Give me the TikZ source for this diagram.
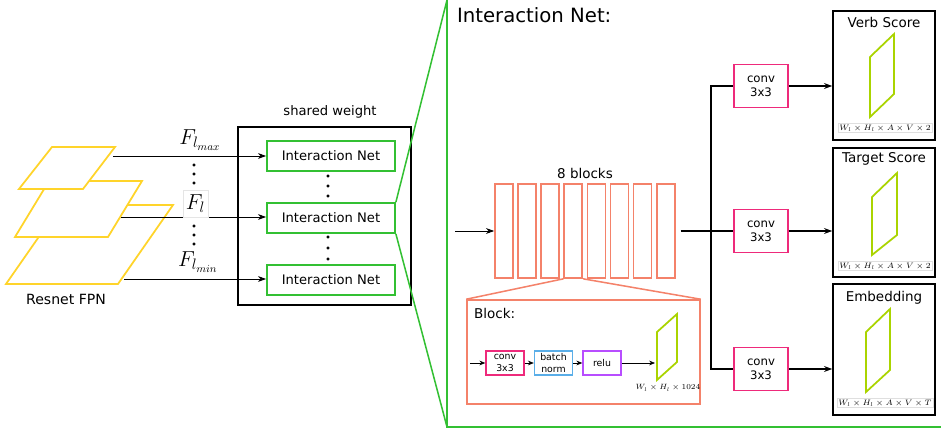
\documentclass[tikz,border=0pt]{standalone}
\usepackage{fix-cm}
\usepackage[no-math]{fontspec}
\setmainfont{DejaVu Sans}
\usetikzlibrary{arrows.meta}
\definecolor{fpnyellow}{HTML}{FFD42A}
\definecolor{netgreen}{HTML}{33C033}
\definecolor{blockorange}{HTML}{F4826A}
\definecolor{convpink}{HTML}{EE2A7B}
\definecolor{outgreen}{HTML}{AAD400}
\definecolor{bnblue}{HTML}{5AAEE8}
\definecolor{relupurple}{HTML}{B84DFF}
\begin{document}
\begin{tikzpicture}[x=0.03cm,y=-0.03cm,
    >={Stealth[length=7pt,width=5pt]},
    lbl/.style={font=\fontsize{11.2}{13}\selectfont},
    fpn/.style={draw=fpnyellow,fill=white,line width=1.5pt},
    inet/.style={draw=netgreen,line width=1.5pt,minimum width=3.84cm,minimum height=0.9cm,inner sep=0pt,font=\fontsize{11.2}{13}\selectfont},
    blk/.style={draw=blockorange,line width=1.4pt,minimum width=0.54cm,minimum height=2.82cm,inner sep=0pt},
    conv/.style={draw=convpink,line width=1.5pt,minimum width=1.62cm,minimum height=1.29cm,inner sep=0pt,align=center,font=\fontsize{10}{12}\selectfont},
    score/.style={draw,line width=1.3pt,minimum width=3.06cm,minimum height=3.87cm,inner sep=0pt},
    small/.style={line width=1.2pt,minimum width=1.14cm,minimum height=0.72cm,inner sep=0pt,align=center,font=\fontsize{8}{9.5}\selectfont},
    dim/.style={draw=gray!25,line width=0.3pt,inner sep=1pt,font=\fontsize{6.7}{8}\selectfont},
    flbl/.style={font=\fontsize{18.5}{20}\selectfont},
    para/.style={draw=outgreen,line width=1.5pt}]
\useasboundingbox (0,0) rectangle (941,431);

% resnet fpn
\filldraw[fpn] (61,205) -- (173,205) -- (118,284) -- (6,284) -- cycle;
\filldraw[fpn] (49,181) -- (142,181) -- (108,237) -- (15,237) -- cycle;
\filldraw[fpn] (52,147) -- (115,147) -- (83,189) -- (19,189) -- cycle;
\node[font=\fontsize{12}{14}\selectfont] (fpnlabel) at (66,299) {Resnet FPN};
\coordinate (fmax) at (113,156);
\coordinate (fl) at (121,217);
\coordinate (fmin) at (124,279);

% shared weight
\node[draw,line width=1.2pt,minimum width=5.19cm,minimum height=5.34cm] (shared) at (324.5,216) {};
\node[lbl] (sharedlabel) at (330,112) {shared weight};
\node[inet] (inmax) at (331,156) {Interaction Net};
\node[inet] (inl) at (331,218) {Interaction Net};
\node[inet] (inmin) at (331,280) {Interaction Net};
\draw[->,line width=0.8pt] (fmax) -- (fmax -| inmax.west);
\draw[->,line width=0.8pt] (fl) -- (fl -| inl.west);
\draw[->,line width=0.8pt] (fmin) -- (fmin -| inmin.west);
\node[flbl] (lmax) at (200,140) {$F_{l_{max}}$};
\node[flbl,draw=gray!20,line width=0.3pt,inner sep=0pt,minimum width=0.75cm,minimum height=0.8cm,fill=white] (ll) at (195.5,203.5) {$F_l$};
\node[flbl] (lmin) at (198,262) {$F_{l_{min}}$};
\foreach \y in {165,174,183,226,235,244}
  \filldraw (194,\y) circle (1.1pt);
\foreach \y in {176,186,196,237,248,259}
  \filldraw (328,\y) circle (1.1pt);

% interaction net
\draw[netgreen,line width=1.3pt] (inl.north east) -- (447,0);
\draw[netgreen,line width=1.3pt] (inl.south east) -- (447,427);
\draw[netgreen,line width=1.5pt] (447,-5) -- (447,427) -- (945,427);
\node[anchor=west,font=\fontsize{16.8}{19}\selectfont] (title) at (453,15) {Interaction Net:};

\foreach \i in {0,...,7}
  \node[blk] (b\i) at (504+23.1*\i,231) {};
\node[font=\fontsize{11.5}{13}\selectfont] (nblocks) at (585,173) {8 blocks};
\coordinate (netin) at (455,231);
\draw[->,line width=0.8pt] (netin) -- (b0.west);

\node[conv] (c1) at (761,86) {conv\\3x3};
\node[conv] (c2) at (761,231) {conv\\3x3};
\node[conv] (c3) at (761,369) {conv\\3x3};
\draw[line width=1.2pt] (b7.east) ++(5,0) -- (c2.west);
\draw[line width=1.2pt] (c1.west) -- ++(-22,0) |- (c3.west);

\node[score] (verb) at (884,75.5) {};
\node[score] (target) at (884,212.5) {};
\node[score,minimum height=3.93cm] (embed) at (884,349.5) {};
\draw[->,line width=1.2pt] (c1.east) -- (c1 -| verb.west);
\draw[->,line width=1.2pt] (c2.east) -- (c2 -| target.west);
\draw[->,line width=1.2pt] (c3.east) -- (c3 -| embed.west);
\node[font=\fontsize{11.5}{13}\selectfont] at (884,22) {Verb Score};
\node[font=\fontsize{11.5}{13}\selectfont] at (884,159) {Target Score};
\node[font=\fontsize{11.5}{13}\selectfont] at (884,298) {Embedding};
\draw[para] (870,57) -- (894,34) -- (894,94) -- (870,117) -- cycle;
\draw[para] (872,197) -- (897,173) -- (897,235) -- (872,255) -- cycle;
\draw[para] (866,332) -- (890,309) -- (890,370) -- (866,392) -- cycle;
\node[dim] (dverb) at (885,128) {$W_l\times H_l\times A\times V\times 2$};
\node[dim] (dtarget) at (885,266) {$W_l\times H_l\times A\times V\times 2$};
\node[dim] (dembed) at (885,403) {$W_l\times H_l\times A\times V\times T$};

% block
\node[draw=blockorange,line width=1.3pt,minimum width=6.99cm,minimum height=3.12cm] (block) at (583.5,352) {};
\draw[blockorange,line width=1.3pt] (b3.south west) -- (block.north west);
\draw[blockorange,line width=1.3pt] (b3.south east) -- (block.north east);
\node[anchor=west,font=\fontsize{11.5}{13}\selectfont] (blocktitle) at (470,313) {Block:};
\node[small,draw=convpink] (bconv) at (505,363) {conv\\3x3};
\node[small,draw=bnblue] (bnorm) at (553.5,363) {batch\\norm};
\node[small,draw=relupurple] (brelu) at (602,363) {relu};
\coordinate (blockin) at (470,363);
\coordinate (blockout) at (655,363);
\draw[-{Stealth[length=5pt,width=4pt]},line width=0.6pt] (blockin) -- (bconv);
\draw[-{Stealth[length=5pt,width=4pt]},line width=0.6pt] (bconv) -- (bnorm);
\draw[-{Stealth[length=5pt,width=4pt]},line width=0.6pt] (bnorm) -- (brelu);
\draw[-{Stealth[length=5pt,width=4pt]},line width=0.6pt] (brelu) -- (blockout);
\draw[para] (657,332) -- (677,314) -- (677,362) -- (657,380) -- cycle;
\node[font=\fontsize{6.5}{7}\selectfont] (dblock) at (668,388) {$W_l\times H_l\times 1024$};
\end{tikzpicture}
\end{document}
